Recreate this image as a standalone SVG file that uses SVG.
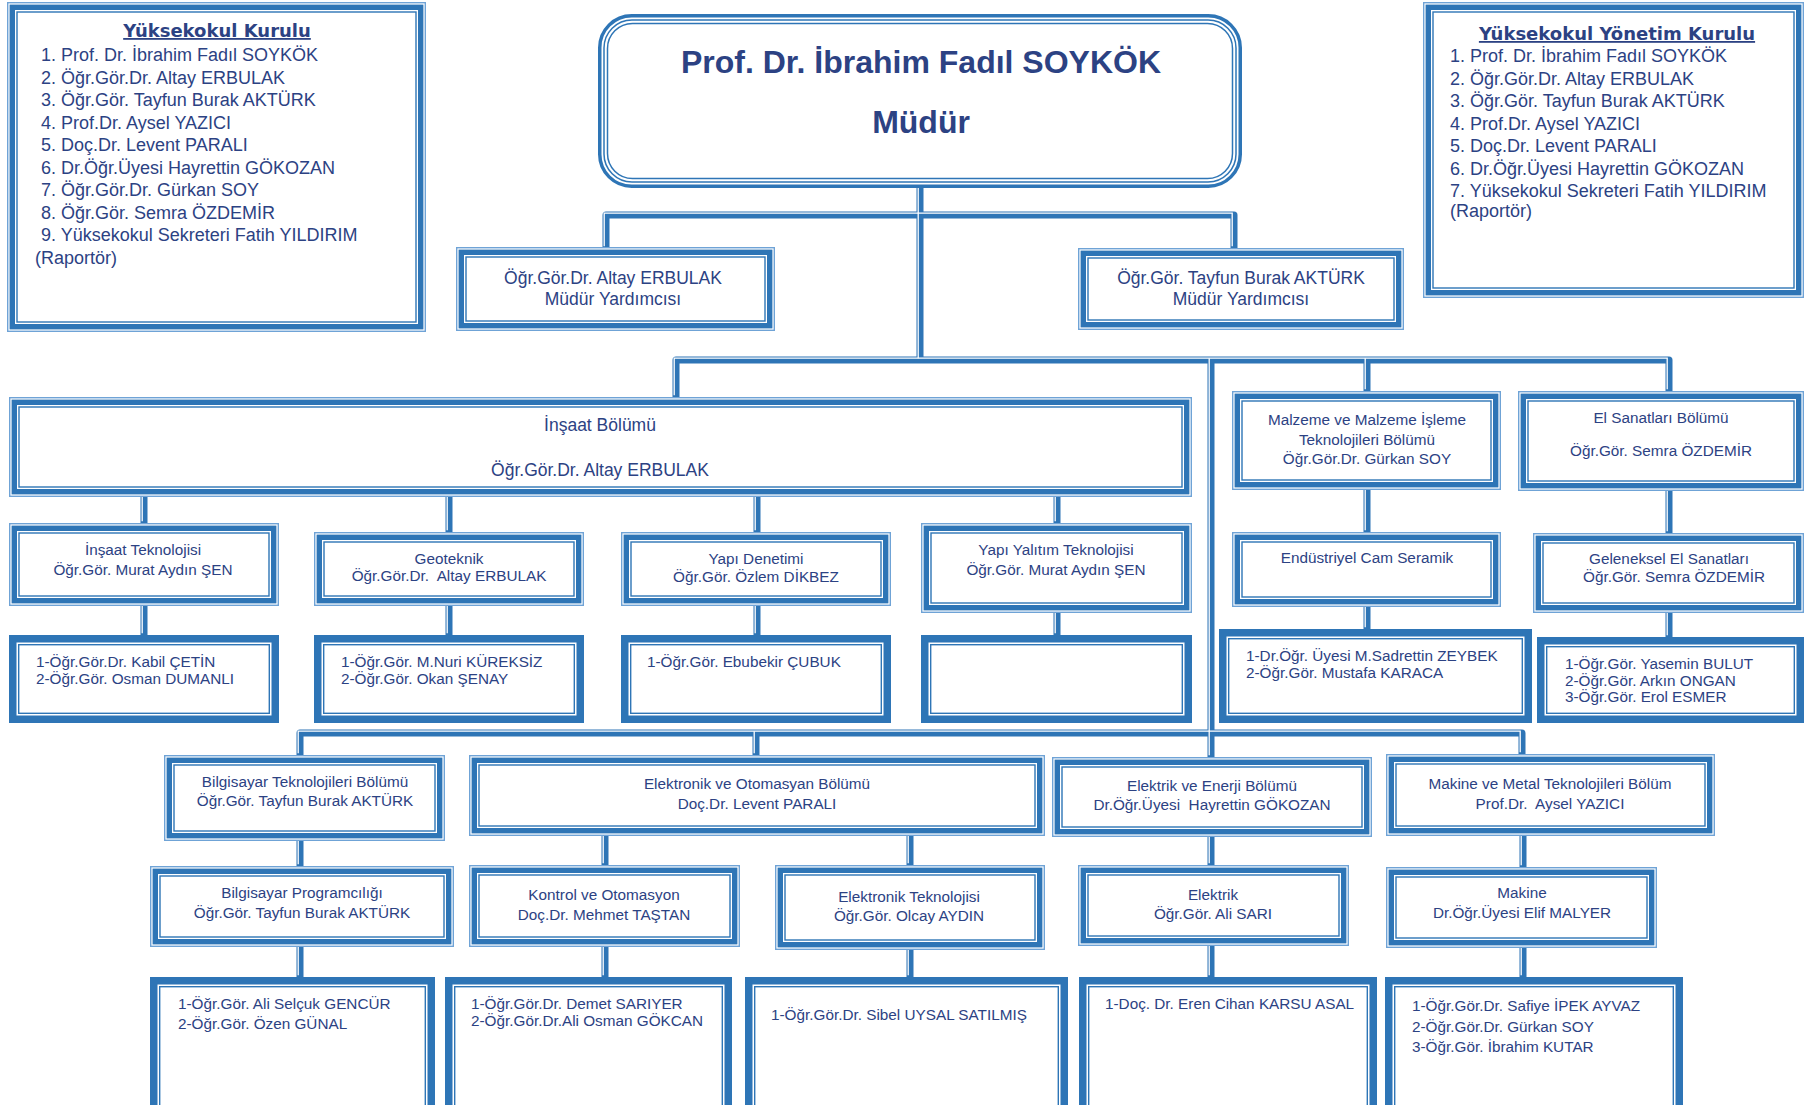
<svg xmlns="http://www.w3.org/2000/svg" width="1806" height="1105" viewBox="0 0 1806 1105">
<style>
.bo{fill:#fff;stroke:#6fa3d6;stroke-width:1.4}
.bt{fill:none;stroke:#2e75b6;stroke-width:5.4}
.bi{fill:none;stroke:#2e75b6;stroke-width:1.4}
.kt{fill:#fff;stroke:#2e75b6;stroke-width:7.5}
.t{font-family:"Liberation Sans",Arial,sans-serif;fill:#2c4283}
.c{text-anchor:middle}
.f18{font-size:18px}
.f17{font-size:17.5px}
.f15{font-size:15.3px}
.h{font-family:"DejaVu Sans",Verdana,sans-serif;font-weight:bold;font-size:18px;text-decoration:underline;fill:#2c4283;text-anchor:middle}
.m{font-size:32px;font-weight:bold}
.pre{white-space:pre}
.cb{fill:none;stroke:#2e75b6;stroke-width:7;stroke-linejoin:round}
.cw{fill:none;stroke:#fff;stroke-width:1.3}
.rm{fill:#fff;stroke:#2e75b6;stroke-width:3.5}
.rl{fill:none;stroke:#2e75b6;stroke-width:1.5}
</style>
<defs>
<g id="links">
<path d="M920,188 V360"/>
<path d="M606,248 V215 H1234 V248"/>
<path d="M676,397 V360 H1669 V391"/>
<path d="M1367,360 V391"/>
<path d="M1211,360 V757"/>
<path d="M300,755 V733 H1522 V754"/>
<path d="M756,733 V755"/>
<path d="M144,497 V523 M144,606 V635"/>
<path d="M449,497 V532 M449,606 V635"/>
<path d="M757,497 V532 M757,606 V635"/>
<path d="M1057,497 V523 M1057,613 V635"/>
<path d="M1367,490 V532 M1367,607 V629"/>
<path d="M1669,491 V533 M1669,613 V637"/>
<path d="M300,841 V866 M300,947 V977"/>
<path d="M605,836 V865 M605,947 V977"/>
<path d="M910,836 V865 M910,950 V977"/>
<path d="M1211,837 V865 M1211,946 V977"/>
<path d="M1523,836 V867 M1523,948 V977"/>
</g>
</defs>
<rect width="1806" height="1105" fill="#fff"/>
<g id="connectors">
<use href="#links" class="cb"/>
<use href="#links" class="cw" transform="translate(-1.8,-1.8)"/>
</g>

<g id="yuksekokul-kurulu">
<g transform="translate(7,2)"><rect class="bo" x="0.7" y="0.7" width="417.6" height="328.6"/><rect class="bt" x="5.3" y="5.3" width="408.4" height="319.4"/><rect class="bi" x="10" y="10" width="399" height="310"/></g>
<text class="h" x="217" y="37">Yüksekokul Kurulu</text>
<text class="t f18" x="41" y="61">1. Prof. Dr. İbrahim Fadıl SOYKÖK</text>
<text class="t f18" x="41" y="83.5">2. Öğr.Gör.Dr. Altay ERBULAK</text>
<text class="t f18" x="41" y="106">3. Öğr.Gör. Tayfun Burak AKTÜRK</text>
<text class="t f18" x="41" y="128.5">4. Prof.Dr. Aysel YAZICI</text>
<text class="t f18" x="41" y="151">5. Doç.Dr. Levent PARALI</text>
<text class="t f18" x="41" y="173.5">6. Dr.Öğr.Üyesi Hayrettin GÖKOZAN</text>
<text class="t f18" x="41" y="196">7. Öğr.Gör.Dr. Gürkan SOY</text>
<text class="t f18" x="41" y="218.5">8. Öğr.Gör. Semra ÖZDEMİR</text>
<text class="t f18" x="41" y="241">9. Yüksekokul Sekreteri Fatih YILDIRIM</text>
<text class="t f18" x="35" y="263.5">(Raportör)</text>
</g>

<g id="yonetim-kurulu">
<g transform="translate(1423,2)"><rect class="bo" x="0.7" y="0.7" width="379.6" height="294.6"/><rect class="bt" x="5.3" y="5.3" width="370.4" height="285.4"/><rect class="bi" x="10" y="10" width="361" height="276"/></g>
<text class="h" x="1617" y="40">Yüksekokul Yönetim Kurulu</text>
<text class="t f18" x="1450" y="62">1. Prof. Dr. İbrahim Fadıl SOYKÖK</text>
<text class="t f18" x="1450" y="84.5">2. Öğr.Gör.Dr. Altay ERBULAK</text>
<text class="t f18" x="1450" y="107">3. Öğr.Gör. Tayfun Burak AKTÜRK</text>
<text class="t f18" x="1450" y="129.5">4. Prof.Dr. Aysel YAZICI</text>
<text class="t f18" x="1450" y="152">5. Doç.Dr. Levent PARALI</text>
<text class="t f18" x="1450" y="174.5">6. Dr.Öğr.Üyesi Hayrettin GÖKOZAN</text>
<text class="t f18" x="1450" y="197">7. Yüksekokul Sekreteri Fatih YILDIRIM</text>
<text class="t f18" x="1450" y="217">(Raportör)</text>
</g>

<g id="mudur">
<g transform="translate(598,14)"><rect class="rm" x="1.75" y="1.75" width="640.5" height="170.5" rx="32"/><rect class="rl" x="6" y="6" width="632" height="162" rx="28"/><rect class="rl" x="9.5" y="9.5" width="625" height="155" rx="25"/></g>
<text class="t m c" x="921" y="73">Prof. Dr. İbrahim Fadıl SOYKÖK</text>
<text class="t m c" x="921" y="133">Müdür</text>
</g>

<g id="mudur-yrd-1">
<g transform="translate(456,247)"><rect class="bo" x="0.7" y="0.7" width="317.6" height="82.6"/><rect class="bt" x="5.3" y="5.3" width="308.4" height="73.4"/><rect class="bi" x="10" y="10" width="299" height="64"/></g>
<text class="t f17 c" x="613" y="284">Öğr.Gör.Dr. Altay ERBULAK</text>
<text class="t f17 c" x="613" y="305">Müdür Yardımcısı</text>
</g>

<g id="mudur-yrd-2">
<g transform="translate(1078,248)"><rect class="bo" x="0.7" y="0.7" width="324.6" height="80.6"/><rect class="bt" x="5.3" y="5.3" width="315.4" height="71.4"/><rect class="bi" x="10" y="10" width="306" height="62"/></g>
<text class="t f17 c" x="1241" y="284">Öğr.Gör. Tayfun Burak AKTÜRK</text>
<text class="t f17 c" x="1241" y="305">Müdür Yardımcısı</text>
</g>

<g id="insaat-bolumu">
<g transform="translate(9,397)"><rect class="bo" x="0.7" y="0.7" width="1181.6" height="98.6"/><rect class="bt" x="5.3" y="5.3" width="1172.4" height="89.4"/><rect class="bi" x="10" y="10" width="1163" height="80"/></g>
<text class="t f17 c" x="600" y="431">İnşaat Bölümü</text>
<text class="t f17 c" x="600" y="476">Öğr.Gör.Dr. Altay ERBULAK</text>
</g>

<g id="malzeme-bolumu">
<g transform="translate(1232,391)"><rect class="bo" x="0.7" y="0.7" width="267.6" height="97.6"/><rect class="bt" x="5.3" y="5.3" width="258.4" height="88.4"/><rect class="bi" x="10" y="10" width="249" height="79"/></g>
<text class="t f15 c" x="1367" y="425">Malzeme ve Malzeme İşleme</text>
<text class="t f15 c" x="1367" y="445">Teknolojileri Bölümü</text>
<text class="t f15 c" x="1367" y="464">Öğr.Gör.Dr. Gürkan SOY</text>
</g>

<g id="el-sanatlari-bolumu">
<g transform="translate(1518,391)"><rect class="bo" x="0.7" y="0.7" width="284.6" height="98.6"/><rect class="bt" x="5.3" y="5.3" width="275.4" height="89.4"/><rect class="bi" x="10" y="10" width="266" height="80"/></g>
<text class="t f15 c" x="1661" y="423">El Sanatları Bölümü</text>
<text class="t f15 c" x="1661" y="456">Öğr.Gör. Semra ÖZDEMİR</text>
</g>

<g id="insaat-teknolojisi">
<g transform="translate(9,523)"><rect class="bo" x="0.7" y="0.7" width="268.6" height="81.6"/><rect class="bt" x="5.3" y="5.3" width="259.4" height="72.4"/><rect class="bi" x="10" y="10" width="250" height="63"/></g>
<text class="t f15 c" x="143" y="555">İnşaat Teknolojisi</text>
<text class="t f15 c" x="143" y="575">Öğr.Gör. Murat Aydın ŞEN</text>
</g>

<g id="geoteknik">
<g transform="translate(314,532)"><rect class="bo" x="0.7" y="0.7" width="268.6" height="72.6"/><rect class="bt" x="5.3" y="5.3" width="259.4" height="63.4"/><rect class="bi" x="10" y="10" width="250" height="54"/></g>
<text class="t f15 c" x="449" y="564">Geoteknik</text>
<text class="t f15 c pre" xml:space="preserve" x="449" y="581">Öğr.Gör.Dr.  Altay ERBULAK</text>
</g>

<g id="yapi-denetimi">
<g transform="translate(621,532)"><rect class="bo" x="0.7" y="0.7" width="268.6" height="72.6"/><rect class="bt" x="5.3" y="5.3" width="259.4" height="63.4"/><rect class="bi" x="10" y="10" width="250" height="54"/></g>
<text class="t f15 c" x="756" y="564">Yapı Denetimi</text>
<text class="t f15 c" x="756" y="582">Öğr.Gör. Özlem DİKBEZ</text>
</g>

<g id="yapi-yalitim">
<g transform="translate(921,523)"><rect class="bo" x="0.7" y="0.7" width="269.6" height="88.6"/><rect class="bt" x="5.3" y="5.3" width="260.4" height="79.4"/><rect class="bi" x="10" y="10" width="251" height="70"/></g>
<text class="t f15 c" x="1056" y="555">Yapı Yalıtım Teknolojisi</text>
<text class="t f15 c" x="1056" y="575">Öğr.Gör. Murat Aydın ŞEN</text>
</g>

<g id="endustriyel-cam">
<g transform="translate(1232,532)"><rect class="bo" x="0.7" y="0.7" width="267.6" height="73.6"/><rect class="bt" x="5.3" y="5.3" width="258.4" height="64.4"/><rect class="bi" x="10" y="10" width="249" height="55"/></g>
<text class="t f15 c" x="1367" y="563">Endüstriyel Cam Seramik</text>
</g>

<g id="geleneksel-el-sanatlari">
<g transform="translate(1533,533)"><rect class="bo" x="0.7" y="0.7" width="269.6" height="78.6"/><rect class="bt" x="5.3" y="5.3" width="260.4" height="69.4"/><rect class="bi" x="10" y="10" width="251" height="60"/></g>
<text class="t f15 c" x="1669" y="564">Geleneksel El Sanatları</text>
<text class="t f15 c" x="1674" y="582">Öğr.Gör. Semra ÖZDEMİR</text>
</g>

<g id="insaat-tek-kadro">
<g transform="translate(9,635)"><rect class="kt" x="3.75" y="3.75" width="262.5" height="80.5"/><rect class="bi" x="9.7" y="9.7" width="250.6" height="68.6"/></g>
<text class="t f15" x="36" y="667">1-Öğr.Gör.Dr. Kabil ÇETİN</text>
<text class="t f15" x="36" y="684">2-Öğr.Gör. Osman DUMANLI</text>
</g>

<g id="geoteknik-kadro">
<g transform="translate(314,635)"><rect class="kt" x="3.75" y="3.75" width="262.5" height="80.5"/><rect class="bi" x="9.7" y="9.7" width="250.6" height="68.6"/></g>
<text class="t f15" x="341" y="667">1-Öğr.Gör. M.Nuri KÜREKSİZ</text>
<text class="t f15" x="341" y="684">2-Öğr.Gör. Okan ŞENAY</text>
</g>

<g id="yapi-denetimi-kadro">
<g transform="translate(621,635)"><rect class="kt" x="3.75" y="3.75" width="262.5" height="80.5"/><rect class="bi" x="9.7" y="9.7" width="250.6" height="68.6"/></g>
<text class="t f15" x="647" y="667">1-Öğr.Gör. Ebubekir ÇUBUK</text>
</g>

<g id="yapi-yalitim-kadro">
<g transform="translate(921,635)"><rect class="kt" x="3.75" y="3.75" width="263.5" height="80.5"/><rect class="bi" x="9.7" y="9.7" width="251.6" height="68.6"/></g>
</g>

<g id="endustriyel-kadro">
<g transform="translate(1219,629)"><rect class="kt" x="3.75" y="3.75" width="305.5" height="86.5"/><rect class="bi" x="9.7" y="9.7" width="293.6" height="74.6"/></g>
<text class="t f15" x="1246" y="661">1-Dr.Öğr. Üyesi M.Sadrettin ZEYBEK</text>
<text class="t f15" x="1246" y="678">2-Öğr.Gör. Mustafa KARACA</text>
</g>

<g id="geleneksel-kadro">
<g transform="translate(1537,637)"><rect class="kt" x="3.75" y="3.75" width="259.5" height="78.5"/><rect class="bi" x="9.7" y="9.7" width="247.6" height="66.6"/></g>
<text class="t f15" x="1565" y="669">1-Öğr.Gör. Yasemin BULUT</text>
<text class="t f15" x="1565" y="685.5">2-Öğr.Gör. Arkın ONGAN</text>
<text class="t f15" x="1565" y="702">3-Öğr.Gör. Erol ESMER</text>
</g>

<g id="bilgisayar-bolumu">
<g transform="translate(164,755)"><rect class="bo" x="0.7" y="0.7" width="279.6" height="84.6"/><rect class="bt" x="5.3" y="5.3" width="270.4" height="75.4"/><rect class="bi" x="10" y="10" width="261" height="66"/></g>
<text class="t f15 c" x="305" y="787">Bilgisayar Teknolojileri Bölümü</text>
<text class="t f15 c" x="305" y="806">Öğr.Gör. Tayfun Burak AKTÜRK</text>
</g>

<g id="elektronik-bolumu">
<g transform="translate(469,755)"><rect class="bo" x="0.7" y="0.7" width="574.6" height="79.6"/><rect class="bt" x="5.3" y="5.3" width="565.4" height="70.4"/><rect class="bi" x="10" y="10" width="556" height="61"/></g>
<text class="t f15 c" x="757" y="789">Elektronik ve Otomasyan Bölümü</text>
<text class="t f15 c" x="757" y="809">Doç.Dr. Levent PARALI</text>
</g>

<g id="elektrik-bolumu">
<g transform="translate(1052,757)"><rect class="bo" x="0.7" y="0.7" width="318.6" height="78.6"/><rect class="bt" x="5.3" y="5.3" width="309.4" height="69.4"/><rect class="bi" x="10" y="10" width="300" height="60"/></g>
<text class="t f15 c" x="1212" y="791">Elektrik ve Enerji Bölümü</text>
<text class="t f15 c pre" xml:space="preserve" x="1212" y="810">Dr.Öğr.Üyesi  Hayrettin GÖKOZAN</text>
</g>

<g id="makine-bolumu">
<g transform="translate(1386,754)"><rect class="bo" x="0.7" y="0.7" width="327.6" height="80.6"/><rect class="bt" x="5.3" y="5.3" width="318.4" height="71.4"/><rect class="bi" x="10" y="10" width="309" height="62"/></g>
<text class="t f15 c" x="1550" y="789">Makine ve Metal Teknolojileri Bölüm</text>
<text class="t f15 c pre" xml:space="preserve" x="1550" y="809">Prof.Dr.  Aysel YAZICI</text>
</g>

<g id="bilgisayar-programciligi">
<g transform="translate(150,866)"><rect class="bo" x="0.7" y="0.7" width="302.6" height="79.6"/><rect class="bt" x="5.3" y="5.3" width="293.4" height="70.4"/><rect class="bi" x="10" y="10" width="284" height="61"/></g>
<text class="t f15 c" x="302" y="898">Bilgisayar Programcılığı</text>
<text class="t f15 c" x="302" y="918">Öğr.Gör. Tayfun Burak AKTÜRK</text>
</g>

<g id="kontrol-otomasyon">
<g transform="translate(469,865)"><rect class="bo" x="0.7" y="0.7" width="269.6" height="80.6"/><rect class="bt" x="5.3" y="5.3" width="260.4" height="71.4"/><rect class="bi" x="10" y="10" width="251" height="62"/></g>
<text class="t f15 c" x="604" y="900">Kontrol ve Otomasyon</text>
<text class="t f15 c" x="604" y="920">Doç.Dr. Mehmet TAŞTAN</text>
</g>

<g id="elektronik-teknolojisi">
<g transform="translate(775,865)"><rect class="bo" x="0.7" y="0.7" width="268.6" height="83.6"/><rect class="bt" x="5.3" y="5.3" width="259.4" height="74.4"/><rect class="bi" x="10" y="10" width="250" height="65"/></g>
<text class="t f15 c" x="909" y="902">Elektronik Teknolojisi</text>
<text class="t f15 c" x="909" y="921">Öğr.Gör. Olcay AYDIN</text>
</g>

<g id="elektrik">
<g transform="translate(1078,865)"><rect class="bo" x="0.7" y="0.7" width="269.6" height="79.6"/><rect class="bt" x="5.3" y="5.3" width="260.4" height="70.4"/><rect class="bi" x="10" y="10" width="251" height="61"/></g>
<text class="t f15 c" x="1213" y="900">Elektrik</text>
<text class="t f15 c" x="1213" y="919">Öğr.Gör. Ali SARI</text>
</g>

<g id="makine">
<g transform="translate(1386,867)"><rect class="bo" x="0.7" y="0.7" width="269.6" height="79.6"/><rect class="bt" x="5.3" y="5.3" width="260.4" height="70.4"/><rect class="bi" x="10" y="10" width="251" height="61"/></g>
<text class="t f15 c" x="1522" y="898">Makine</text>
<text class="t f15 c" x="1522" y="918">Dr.Öğr.Üyesi Elif MALYER</text>
</g>

<g id="bilgisayar-kadro">
<g transform="translate(150,977)"><rect class="kt" x="3.75" y="3.75" width="277.5" height="132.5"/><rect class="bi" x="9.7" y="9.7" width="265.6" height="120.6"/></g>
<text class="t f15" x="178" y="1009">1-Öğr.Gör. Ali Selçuk GENCÜR</text>
<text class="t f15" x="178" y="1029">2-Öğr.Gör. Özen GÜNAL</text>
</g>

<g id="kontrol-kadro">
<g transform="translate(445,977)"><rect class="kt" x="3.75" y="3.75" width="279.5" height="132.5"/><rect class="bi" x="9.7" y="9.7" width="267.6" height="120.6"/></g>
<text class="t f15" x="471" y="1009">1-Öğr.Gör.Dr. Demet SARIYER</text>
<text class="t f15" x="471" y="1026">2-Öğr.Gör.Dr.Ali Osman GÖKCAN</text>
</g>

<g id="elektronik-kadro">
<g transform="translate(745,977)"><rect class="kt" x="3.75" y="3.75" width="315.5" height="132.5"/><rect class="bi" x="9.7" y="9.7" width="303.6" height="120.6"/></g>
<text class="t f15" x="771" y="1020">1-Öğr.Gör.Dr. Sibel UYSAL SATILMIŞ</text>
</g>

<g id="elektrik-kadro">
<g transform="translate(1079,977)"><rect class="kt" x="3.75" y="3.75" width="290.5" height="132.5"/><rect class="bi" x="9.7" y="9.7" width="278.6" height="120.6"/></g>
<text class="t f15" x="1105" y="1009">1-Doç. Dr. Eren Cihan KARSU ASAL</text>
</g>

<g id="makine-kadro">
<g transform="translate(1385,977)"><rect class="kt" x="3.75" y="3.75" width="290.5" height="132.5"/><rect class="bi" x="9.7" y="9.7" width="278.6" height="120.6"/></g>
<text class="t f15" x="1412" y="1011">1-Öğr.Gör.Dr. Safiye İPEK AYVAZ</text>
<text class="t f15" x="1412" y="1032">2-Öğr.Gör.Dr. Gürkan SOY</text>
<text class="t f15" x="1412" y="1052">3-Öğr.Gör. İbrahim KUTAR</text>
</g>
</svg>
